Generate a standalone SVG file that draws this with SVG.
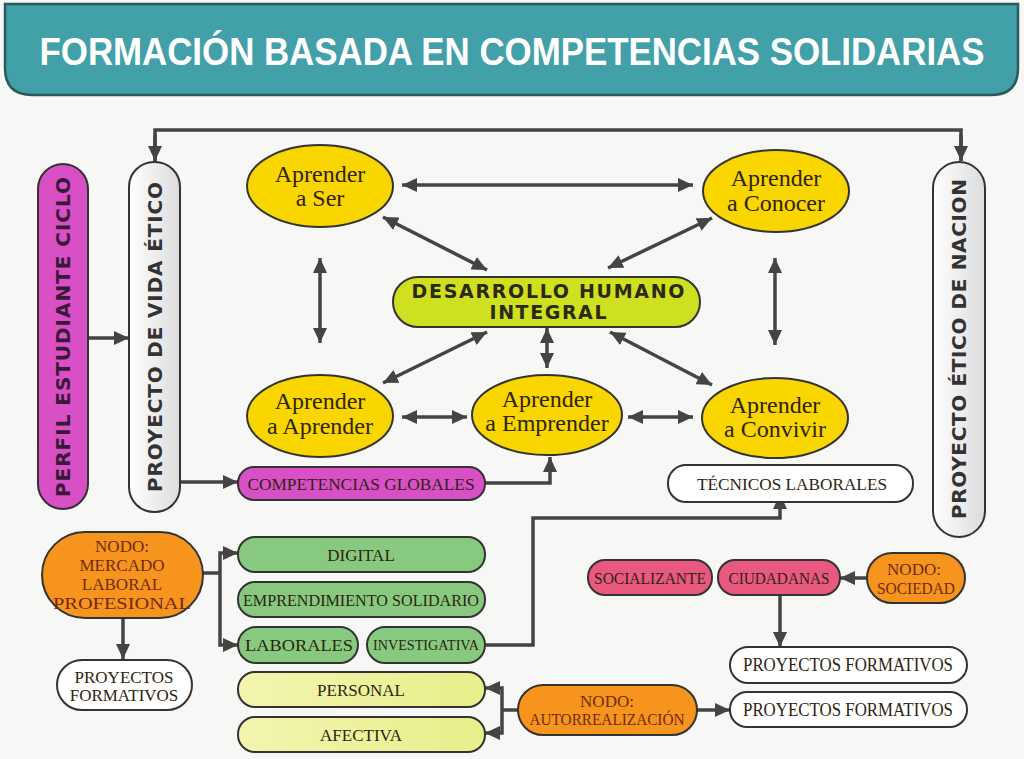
<svg xmlns="http://www.w3.org/2000/svg" width="1024" height="759" viewBox="0 0 1024 759">
<defs>
<marker id="ah" viewBox="0 0 15 14" refX="15" refY="7" markerWidth="15" markerHeight="14" markerUnits="userSpaceOnUse" orient="auto-start-reverse">
<path d="M0,0 L15,7 L0,14 Z" fill="#444"/>
</marker>
<linearGradient id="gw" x1="0" y1="0" x2="1" y2="0">
<stop offset="0" stop-color="#ffffff"/><stop offset="1" stop-color="#dcdcdc"/>
</linearGradient>
<linearGradient id="gy" x1="0" y1="0" x2="1" y2="0">
<stop offset="0" stop-color="#f3f5b0"/><stop offset="1" stop-color="#e8ee8a"/>
</linearGradient>
<style>
.ln{fill:none;stroke:#444;stroke-width:3.5}
.a{marker-end:url(#ah)}
.aa{marker-start:url(#ah);marker-end:url(#ah)}
.ell{fill:#f9d600;stroke:#333;stroke-width:2}
.mag{fill:#d84fc6;stroke:#333;stroke-width:2}
.wh{fill:url(#gw);stroke:#333;stroke-width:2}
.wt{fill:#ffffff;stroke:#333;stroke-width:2}
.gr{fill:#88c980;stroke:#333;stroke-width:2}
.py{fill:url(#gy);stroke:#333;stroke-width:2}
.or{fill:#f7941d;stroke:#333;stroke-width:2}
.pk{fill:#e9587f;stroke:#333;stroke-width:2}
.lime{fill:#cfe021;stroke:#333;stroke-width:2}
.t{font-family:"Liberation Serif","Times New Roman",serif;text-anchor:middle;fill:#2e2410}
.te{font-size:24px}
.tb{font-size:17px}
.to{fill:#6e2a0c}
.sq{font-family:"DejaVu Sans","Verdana",sans-serif;font-weight:bold;text-anchor:middle}
</style>
</defs>
<rect x="0" y="0" width="1024" height="759" fill="#f7f7f5"/>

<g id="title">
<path d="M5,4 H1018 V68 Q1018,95 991,95 H32 Q5,95 5,68 Z" fill="#42a0a8" stroke="#2b5a5e" stroke-width="2.5"/>
<text transform="translate(512,65) scale(1,1.12)" x="0" y="0" font-family="Liberation Sans,Arial,sans-serif" font-weight="bold" font-size="34" fill="#ffffff" text-anchor="middle" textLength="945" lengthAdjust="spacingAndGlyphs">FORMACIÓN BASADA EN COMPETENCIAS SOLIDARIAS</text>
</g>

<g id="connectors">
<path class="ln" d="M155,161 V130 H961 V161"/>
<path class="ln a" d="M155,135 V161"/>
<path class="ln a" d="M961,135 V161"/>
<path class="ln a" d="M88,338 H129"/>
<path class="ln a" d="M180,482 H238"/>
<path class="ln a" d="M485,483 H550 V457"/>
<path class="ln aa" d="M402,185 H693"/>
<path class="ln aa" d="M320,258 V343"/>
<path class="ln aa" d="M775,258 V345"/>
<path class="ln aa" d="M383,217 L487,270"/>
<path class="ln aa" d="M712,218 L608,268"/>
<path class="ln aa" d="M487,332 L383,383"/>
<path class="ln aa" d="M610,332 L712,385"/>
<path class="ln aa" d="M547,328 V368"/>
<path class="ln aa" d="M402,417 H467"/>
<path class="ln aa" d="M628,417 H693"/>
<path class="ln a" d="M485,645 H533 V518 H780 V494"/>
<path class="ln" d="M203,573 H220"/>
<path class="ln aa" d="M238,553 H220 V645 H238"/>
<path class="ln a" d="M123,618 V659"/>
<path class="ln a" d="M867,578 H840"/>
<path class="ln a" d="M780,595 V647"/>
<path class="ln a" d="M697,710 H730"/>
<path class="ln" d="M518,710 H502"/>
<path class="ln aa" d="M485,688 H502 V733 H485"/>
</g>

<g id="perfil">
<rect class="mag" x="38" y="164" width="50" height="345" rx="25"/>
<text class="sq" transform="translate(70,337) rotate(-90)" font-size="20" fill="#3a1838" textLength="320">PERFIL ESTUDIANTE CICLO</text>
</g>
<g id="proyecto-vida">
<rect class="wh" x="129" y="162" width="51" height="350" rx="25"/>
<text class="sq" transform="translate(162,337) rotate(-90)" font-size="20" fill="#333" textLength="310">PROYECTO DE VIDA ÉTICO</text>
</g>
<g id="proyecto-nacion">
<rect class="wh" x="933" y="162" width="52" height="375" rx="26"/>
<text class="sq" transform="translate(966,349) rotate(-90)" font-size="20" fill="#333" textLength="340">PROYECTO ÉTICO DE NACION</text>
</g>

<g id="aprender-ser">
<ellipse class="ell" cx="320" cy="186" rx="73" ry="41"/>
<text class="t te" x="320" y="182">Aprender</text>
<text class="t te" x="320" y="206">a Ser</text>
</g>
<g id="aprender-conocer">
<ellipse class="ell" cx="776" cy="191" rx="73" ry="41"/>
<text class="t te" x="776" y="186">Aprender</text>
<text class="t te" x="776" y="211">a Conocer</text>
</g>
<g id="desarrollo">
<rect class="lime" x="393" y="277" width="307" height="50" rx="25"/>
<text class="sq" x="548" y="298" font-size="19" fill="#2a2a10" textLength="273">DESARROLLO HUMANO</text>
<text class="sq" x="548" y="319" font-size="19" fill="#2a2a10" textLength="117">INTEGRAL</text>
</g>
<g id="aprender-aprender">
<ellipse class="ell" cx="320" cy="416" rx="73" ry="41"/>
<text class="t te" x="320" y="409">Aprender</text>
<text class="t te" x="320" y="434">a Aprender</text>
</g>
<g id="aprender-emprender">
<ellipse class="ell" cx="547" cy="415" rx="75" ry="40"/>
<text class="t te" x="547" y="407">Aprender</text>
<text class="t te" x="547" y="431">a Emprender</text>
</g>
<g id="aprender-convivir">
<ellipse class="ell" cx="775" cy="418" rx="73" ry="40"/>
<text class="t te" x="775" y="413">Aprender</text>
<text class="t te" x="775" y="437">a Convivir</text>
</g>

<g id="competencias-globales">
<rect class="mag" x="238" y="467" width="247" height="33" rx="16"/>
<text class="t tb" x="361" y="490" fill="#4a1040" textLength="227" lengthAdjust="spacingAndGlyphs">COMPETENCIAS GLOBALES</text>
</g>
<g id="tecnicos">
<rect class="wt" x="668" y="465" width="245" height="37" rx="18"/>
<text class="t tb" x="792" y="490" textLength="190" lengthAdjust="spacingAndGlyphs">TÉCNICOS LABORALES</text>
</g>

<g id="nodo-mercado">
<rect class="or" x="42" y="532" width="161" height="86" rx="43"/>
<text class="t to" x="122" y="552" font-size="17">NODO:</text>
<text class="t to" x="122" y="571" font-size="17">MERCADO</text>
<text class="t to" x="122" y="590" font-size="17">LABORAL</text>
<text class="t to" x="122" y="609" font-size="17" textLength="138" lengthAdjust="spacingAndGlyphs">PROFESIONAL</text>
</g>
<g id="proyectos-formativos-izq">
<rect class="wt" x="57" y="660" width="135" height="50" rx="25"/>
<text class="t" x="124" y="683" font-size="17">PROYECTOS</text>
<text class="t" x="124" y="701" font-size="17">FORMATIVOS</text>
</g>
<g id="digital">
<rect class="gr" x="238" y="537" width="247" height="35" rx="17"/>
<text class="t tb" x="361" y="561">DIGITAL</text>
</g>
<g id="emprendimiento">
<rect class="gr" x="238" y="582" width="247" height="35" rx="17"/>
<text class="t tb" x="361" y="606" textLength="236" lengthAdjust="spacingAndGlyphs">EMPRENDIMIENTO SOLIDARIO</text>
</g>
<g id="laborales">
<rect class="gr" x="238" y="627" width="120" height="36" rx="18"/>
<text class="t tb" x="299" y="651" textLength="108" lengthAdjust="spacingAndGlyphs">LABORALES</text>
</g>
<g id="investigativa">
<rect class="gr" x="367" y="627" width="118" height="36" rx="18"/>
<text class="t" x="426" y="650" font-size="14" textLength="106" lengthAdjust="spacingAndGlyphs">INVESTIGATIVA</text>
</g>
<g id="personal">
<rect class="py" x="238" y="672" width="247" height="35" rx="17"/>
<text class="t tb" x="361" y="696">PERSONAL</text>
</g>
<g id="afectiva">
<rect class="py" x="238" y="717" width="247" height="35" rx="17"/>
<text class="t tb" x="361" y="741">AFECTIVA</text>
</g>

<g id="socializante">
<rect class="pk" x="588" y="560" width="124" height="35" rx="17"/>
<text class="t tb" x="650" y="584" textLength="112" lengthAdjust="spacingAndGlyphs">SOCIALIZANTE</text>
</g>
<g id="ciudadanas">
<rect class="pk" x="718" y="560" width="122" height="35" rx="17"/>
<text class="t tb" x="779" y="584" textLength="101" lengthAdjust="spacingAndGlyphs">CIUDADANAS</text>
</g>
<g id="nodo-sociedad">
<rect class="or" x="867" y="553" width="98" height="50" rx="25"/>
<text class="t to" x="914" y="575" font-size="17">NODO:</text>
<text class="t to" x="916" y="594" font-size="17" textLength="78" lengthAdjust="spacingAndGlyphs">SOCIEDAD</text>
</g>
<g id="proyectos-formativos-1">
<rect class="wt" x="730" y="647" width="237" height="36" rx="18"/>
<text class="t" x="848" y="671" font-size="18" textLength="210" lengthAdjust="spacingAndGlyphs">PROYECTOS FORMATIVOS</text>
</g>
<g id="proyectos-formativos-2">
<rect class="wt" x="730" y="692" width="237" height="35" rx="17"/>
<text class="t" x="848" y="716" font-size="18" textLength="210" lengthAdjust="spacingAndGlyphs">PROYECTOS FORMATIVOS</text>
</g>
<g id="nodo-autorrealizacion">
<rect class="or" x="518" y="685" width="179" height="50" rx="25"/>
<text class="t to" x="607" y="707" font-size="17">NODO:</text>
<text class="t to" x="607" y="725" font-size="17" textLength="155" lengthAdjust="spacingAndGlyphs">AUTORREALIZACIÓN</text>
</g>
</svg>
